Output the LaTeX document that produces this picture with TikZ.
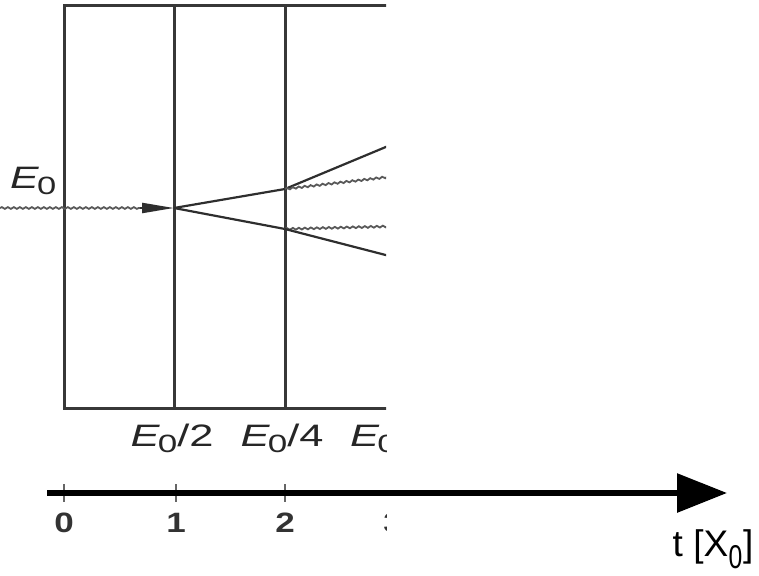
\documentclass[tikz,border=0pt]{standalone}
\usepackage{fontspec}
\setmainfont{Liberation Sans}
\usetikzlibrary{arrows.meta,decorations.pathmorphing}
\newcommand{\Ezero}{\scalebox{1.38}[1]{\fontsize{31}{31}\selectfont\textit{E}\kern-1.5pt\raisebox{-6pt}{\fontsize{25}{25}\selectfont 0}}}
\newcommand{\Efrac}[1]{\scalebox{1.4}[1]{\fontsize{31}{31}\selectfont\textit{E}\kern-1.5pt\raisebox{-6pt}{\fontsize{25}{25}\selectfont 0}/#1}}
\begin{document}
\begin{tikzpicture}[x=1pt,y=-1pt,
  frame/.style={draw=black!78,line width=3pt},
  track/.style={draw=black!82,line width=2.2pt},
  photon/.style={draw=black!65,line width=1.8pt,decorate,decoration={snake,amplitude=0.9pt,segment length=6pt}},
  elabel/.style={text=black!85,inner sep=0pt},
  tlabel/.style={font=\fontsize{28}{28}\selectfont\bfseries,text=black!80,inner sep=0pt},
  tick/.style={draw=black!60,line width=1.6pt}]
\useasboundingbox (0,0) rectangle (759,575);
\begin{scope}
\clip (-1,-1) rectangle (386,545);
% frame
\coordinate (tl) at (64,6); \coordinate (bl) at (64,408);
\coordinate (tr) at (400,6); \coordinate (br) at (400,408);
\coordinate (v1t) at (174,6); \coordinate (v1b) at (174,408);
\coordinate (v2t) at (285,6); \coordinate (v2b) at (285,408);
\draw[frame] (tr) -- (tl) -- (bl) -- (br);
\draw[frame] (v1t) -- (v1b);
\draw[frame] (v2t) -- (v2b);
% incoming photon
\coordinate (in) at (0,208);
\coordinate (p1) at (174,208);
\coordinate (ah) at (140,208);
\draw[photon] (in) -- (ah);
\draw[track,-{Triangle[length=32pt,width=10pt]}] (ah) -- (p1);
% first split
\coordinate (p2a) at (285,189);
\coordinate (p2b) at (285,229);
\draw[track] (p1) -- (p2a);
\draw[track] (p1) -- (p2b);
% second split
\coordinate (e1) at (405,139);
\coordinate (e2) at (405,175);
\coordinate (e3) at (405,226);
\coordinate (e4) at (405,260);
\draw[track] (p2a) -- (e1);
\draw[photon] (p2a) -- (e2);
\draw[photon] (p2b) -- (e3);
\draw[track] (p2b) -- (e4);
% labels
\node[elabel,anchor=base west] (lE0) at (10,188) {\Ezero};
\node[elabel,anchor=base] (lE2) at (172,446) {\Efrac{2}};
\node[elabel,anchor=base] (lE4) at (282,446) {\Efrac{4}};
\node[elabel,anchor=base west] (lE8) at (350,446) {\Efrac{8}};
% ticks
\foreach \x/\n in {64/0,176/1,285/2,393/3}{
  \coordinate (ta\n) at (\x,484); \coordinate (tb\n) at (\x,502);
  \draw[tick] (ta\n) -- (tb\n);
  \node[tlabel,anchor=base] (tl\n) at (\x,532) {\scalebox{1.25}[1]{\n}};
}
\end{scope}
% axis
\coordinate (a0) at (47,493);
\coordinate (a1) at (727,493);
\draw[line width=6pt,-{Triangle[length=50pt,width=38pt]}] (a0) -- (a1);
\node[font=\fontsize{37}{37}\selectfont,anchor=base,inner sep=0pt] (tx) at (713,556) {t [X\kern0.5pt\raisebox{-12pt}{\scalebox{0.75}[1]{\fontsize{33}{33}\selectfont 0}}\kern0.5pt]};
\end{tikzpicture}
\end{document}
